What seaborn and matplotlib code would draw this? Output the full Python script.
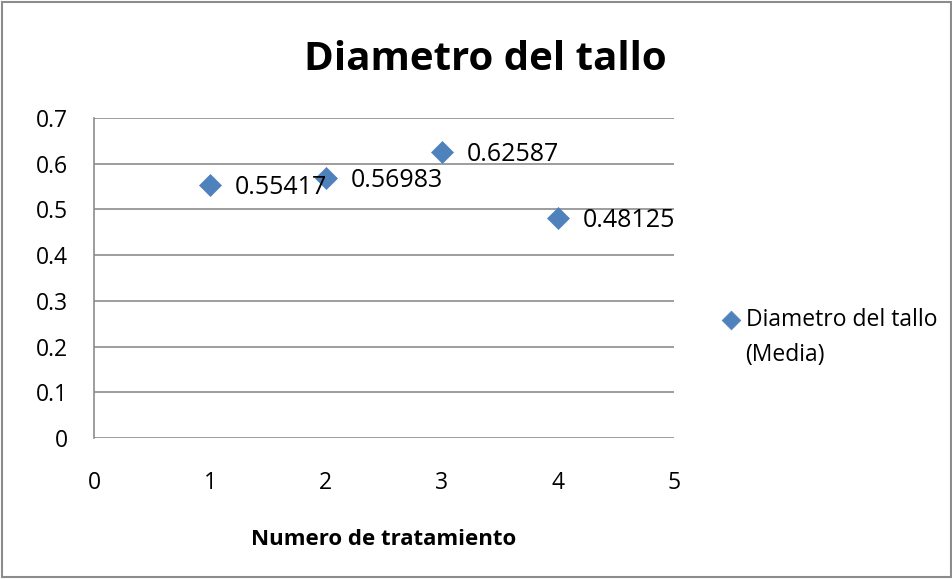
import matplotlib
matplotlib.use('Agg')
import matplotlib.pyplot as plt
import seaborn as sns
import pandas as pd

# datos
tratamiento = [1, 2, 3, 4]
diametro = [0.55417, 0.56983, 0.62587, 0.48125]
etiquetas = ['0.55417', '0.56983', '0.62587', '0.48125']
x_ticks = [0, 1, 2, 3, 4, 5]
y_ticks = [0, 0.1, 0.2, 0.3, 0.4, 0.5, 0.6, 0.7]
serie = 'Diametro del tallo'
serie_2 = '(Media)'

df = pd.DataFrame({'tratamiento': tratamiento, 'diametro': diametro})

sns.set_style('white')
plt.rcParams['font.family'] = ['Open Sans', 'DejaVu Sans']
plt.rcParams['text.color'] = 'black'

fig = plt.figure(figsize=(9.53, 5.79), dpi=100)
ax = fig.add_axes([0.0986, 0.2435, 0.6085, 0.5527])

sns.scatterplot(data=df, x='tratamiento', y='diametro', marker='D', s=125,
                color='#4F81BD', edgecolor='#4F81BD', linewidth=0.5,
                label=serie, ax=ax, zorder=3)

for xv, yv, txt in zip(tratamiento, diametro, etiquetas):
    ax.annotate(txt, (xv, yv), xytext=(18, -2), textcoords='offset points',
                ha='left', va='center', fontsize=18, color='black')

ax.set_xlim(0, 5)
ax.set_ylim(0, 0.7)
ax.set_xticks(x_ticks)
ax.set_yticks(y_ticks)
ax.set_xticklabels([str(v) for v in x_ticks])
ax.set_yticklabels(['0' if v == 0 else f'{v:.1f}' for v in y_ticks])
ax.tick_params(axis='both', labelsize=16.5, labelcolor='black')
ax.tick_params(axis='y', length=5, color='#888888', width=1.2, direction='out', pad=14)
ax.tick_params(axis='x', length=0, pad=24)
ax.grid(axis='y', color='#8c8c8c', linewidth=1.2)
ax.grid(axis='x', visible=False)
for sp in ['top', 'right', 'bottom']:
    ax.spines[sp].set_visible(False)
ax.spines['left'].set_color('#8c8c8c')
ax.spines['left'].set_linewidth(1.2)
ax.set_axisbelow(True)

ax.set_xlabel('Numero de tratamiento', fontsize=16, fontweight='bold', labelpad=24,
              color='black')
ax.set_ylabel('')
fig.text(0.509, 0.897, 'Diametro del tallo', ha='center', va='center',
         fontsize=29, fontweight='bold', color='black')

ax.legend(loc='center left', bbox_to_anchor=(0.757, 0.447), bbox_transform=fig.transFigure,
          frameon=False, fontsize=16.5, handlelength=0.8, handletextpad=0.26,
          borderpad=0, borderaxespad=0, markerscale=0.85)
fig.text(0.7817, 0.387, serie_2, ha='left', va='center', fontsize=16.5, color='black')

# marco exterior
fig.patches.append(plt.Rectangle((0.002, 0.003), 0.996, 0.994, transform=fig.transFigure,
                                 fill=False, edgecolor='#8c8c8c', linewidth=1.5))

plt.savefig('out.png', dpi=100, facecolor='white')
plt.close()
